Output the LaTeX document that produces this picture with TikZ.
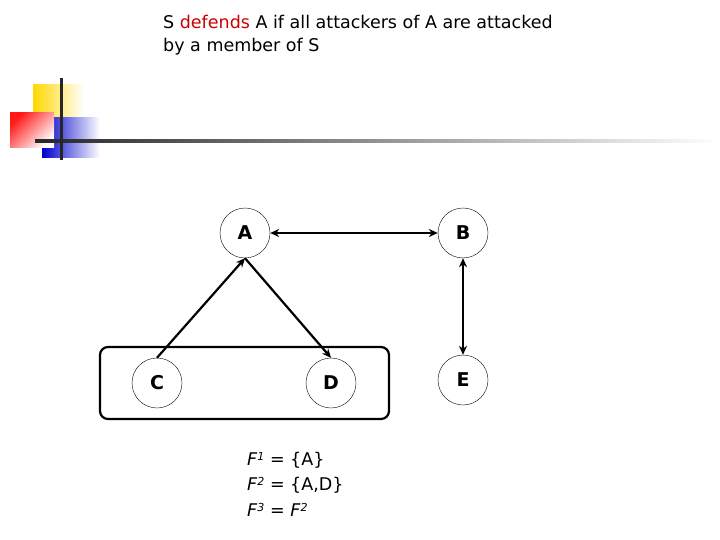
\documentclass[tikz,border=0pt]{standalone}
\usepackage{fontspec}
\setmainfont{DejaVu Sans}
\usetikzlibrary{arrows.meta}
\begin{document}
\begin{tikzpicture}[x=1pt,y=-1pt,
  nd/.style={circle,draw,thin,minimum size=50pt,inner sep=0pt,font=\fontsize{19}{22}\selectfont\bfseries},
  arr/.style={line width=2.2pt,-{Stealth[length=9pt,width=8pt]}},
  barr/.style={line width=2.2pt,{Stealth[length=9pt,width=8pt]}-{Stealth[length=9pt,width=8pt]}},
  txt/.style={anchor=west,inner sep=0pt,font=\fontsize{17.5}{20}\selectfont}]
\useasboundingbox (0,0) rectangle (720,540);
% logo
\shade[left color=yellow!70!orange, right color=white] (33,85) rectangle (84,130);
\shade[left color=blue!80!black, right color=white] (42,118) rectangle (100,158);
\shade[top color=red!90, bottom color=white, shading angle=45] (10,113) rectangle (54,148);
\shade[left color=black!85, right color=white] (35,140) rectangle (720,142.5);
\fill[black!85] (60,78) rectangle (62.5,160);
% title
\node[txt] (t1) at (163,22) {S {\color{red!80!black}defends} A if all attackers of A are attacked};
\node[txt] (t2) at (163,47) {by a member of S};
% box
\draw[line width=2.2pt,rounded corners=8pt] (100,347) rectangle (389,419);
% nodes
\node[nd] (A) at (245,233) {A};
\node[nd] (B) at (463,233) {B};
\node[nd] (C) at (157,383) {C};
\node[nd] (D) at (331,383) {D};
\node[nd] (E) at (463,380) {E};
\draw[barr] (A) -- (B);
\draw[barr] (B) -- (E);
\draw[arr] (C.north) -- (A.south);
\draw[arr] (A.south) -- (D.north);
% formulas
\node[txt] (f1) at (247,460) {\textit{F}\raisebox{0.5ex}{\fontsize{11}{12}\selectfont\textit{1}} = \{A\}};
\node[txt] (f2) at (247,485) {\textit{F}\raisebox{0.5ex}{\fontsize{11}{12}\selectfont\textit{2}} = \{A,D\}};
\node[txt] (f3) at (247,510) {\textit{F}\raisebox{0.5ex}{\fontsize{11}{12}\selectfont\textit{3}} = \textit{F}\raisebox{0.5ex}{\fontsize{11}{12}\selectfont\textit{2}}};
\end{tikzpicture}
\end{document}
